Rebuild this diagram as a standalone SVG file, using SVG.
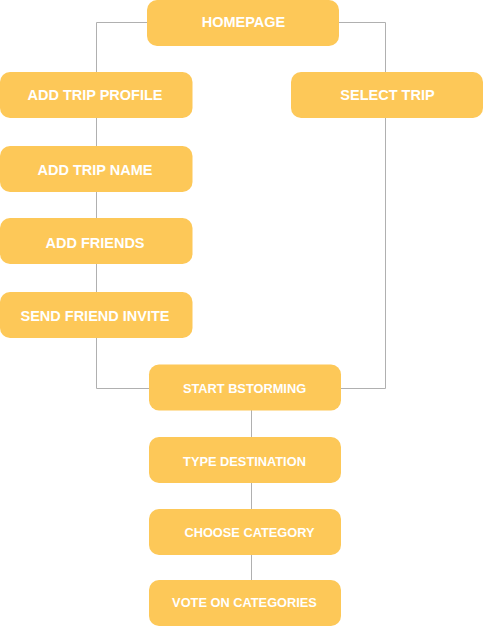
<svg xmlns="http://www.w3.org/2000/svg" width="483" height="628" viewBox="0 0 483 628">
<style>
.n{fill:#FDC858}
.t{fill:#fff;font-family:"Liberation Sans",Arial,sans-serif;font-weight:bold;text-anchor:middle}
.a{font-size:14.5px}
.b{font-size:12.8px}
.c{fill:none;stroke:#b0b0b0;stroke-width:1}
</style>
<rect width="483" height="628" fill="#fff"/>
<g id="connectors">
<path class="c" d="M147,22.5H96.5V72"/>
<path class="c" d="M96.5,118V146"/>
<path class="c" d="M96.5,192V218"/>
<path class="c" d="M96.5,264V292"/>
<path class="c" d="M96.5,338V388.5H149"/>
<path class="c" d="M339,22.5H385.5V72"/>
<path class="c" d="M385.5,118V388.5H341"/>
<path class="c" d="M251.5,410V437"/>
<path class="c" d="M251.5,483V509"/>
<path class="c" d="M251.5,555V580"/>
</g>
<g id="homepage"><rect class="n" x="147" y="0" width="192" height="46" rx="10"/><text class="t a" x="243.5" y="27">HOMEPAGE</text></g>
<g id="add-trip-profile"><rect class="n" x="0" y="72" width="192.5" height="46" rx="10"/><text class="t a" x="95" y="100">ADD TRIP PROFILE</text></g>
<g id="select-trip"><rect class="n" x="291" y="72" width="192" height="46" rx="10"/><text class="t a" x="387.5" y="100">SELECT TRIP</text></g>
<g id="add-trip-name"><rect class="n" x="0" y="146" width="192.5" height="46" rx="10"/><text class="t a" x="95" y="175">ADD TRIP NAME</text></g>
<g id="add-friends"><rect class="n" x="0" y="218" width="192.5" height="46" rx="10"/><text class="t a" x="95" y="248">ADD FRIENDS</text></g>
<g id="send-friend-invite"><rect class="n" x="0" y="292" width="192.5" height="46" rx="10"/><text class="t a" x="95" y="321">SEND FRIEND INVITE</text></g>
<g id="start-bstorming"><rect class="n" x="149" y="364.5" width="192" height="46" rx="10"/><text class="t b" x="244.5" y="393">START BSTORMING</text></g>
<g id="type-destination"><rect class="n" x="149" y="437" width="192" height="46" rx="10"/><text class="t b" x="244.5" y="465.5">TYPE DESTINATION</text></g>
<g id="choose-category"><rect class="n" x="149" y="509" width="192" height="46" rx="10"/><text class="t b" x="249.5" y="536.5">CHOOSE CATEGORY</text></g>
<g id="vote-on-categories"><rect class="n" x="149" y="580" width="192" height="46" rx="10"/><text class="t b" x="244.5" y="607">VOTE ON CATEGORIES</text></g>
</svg>
